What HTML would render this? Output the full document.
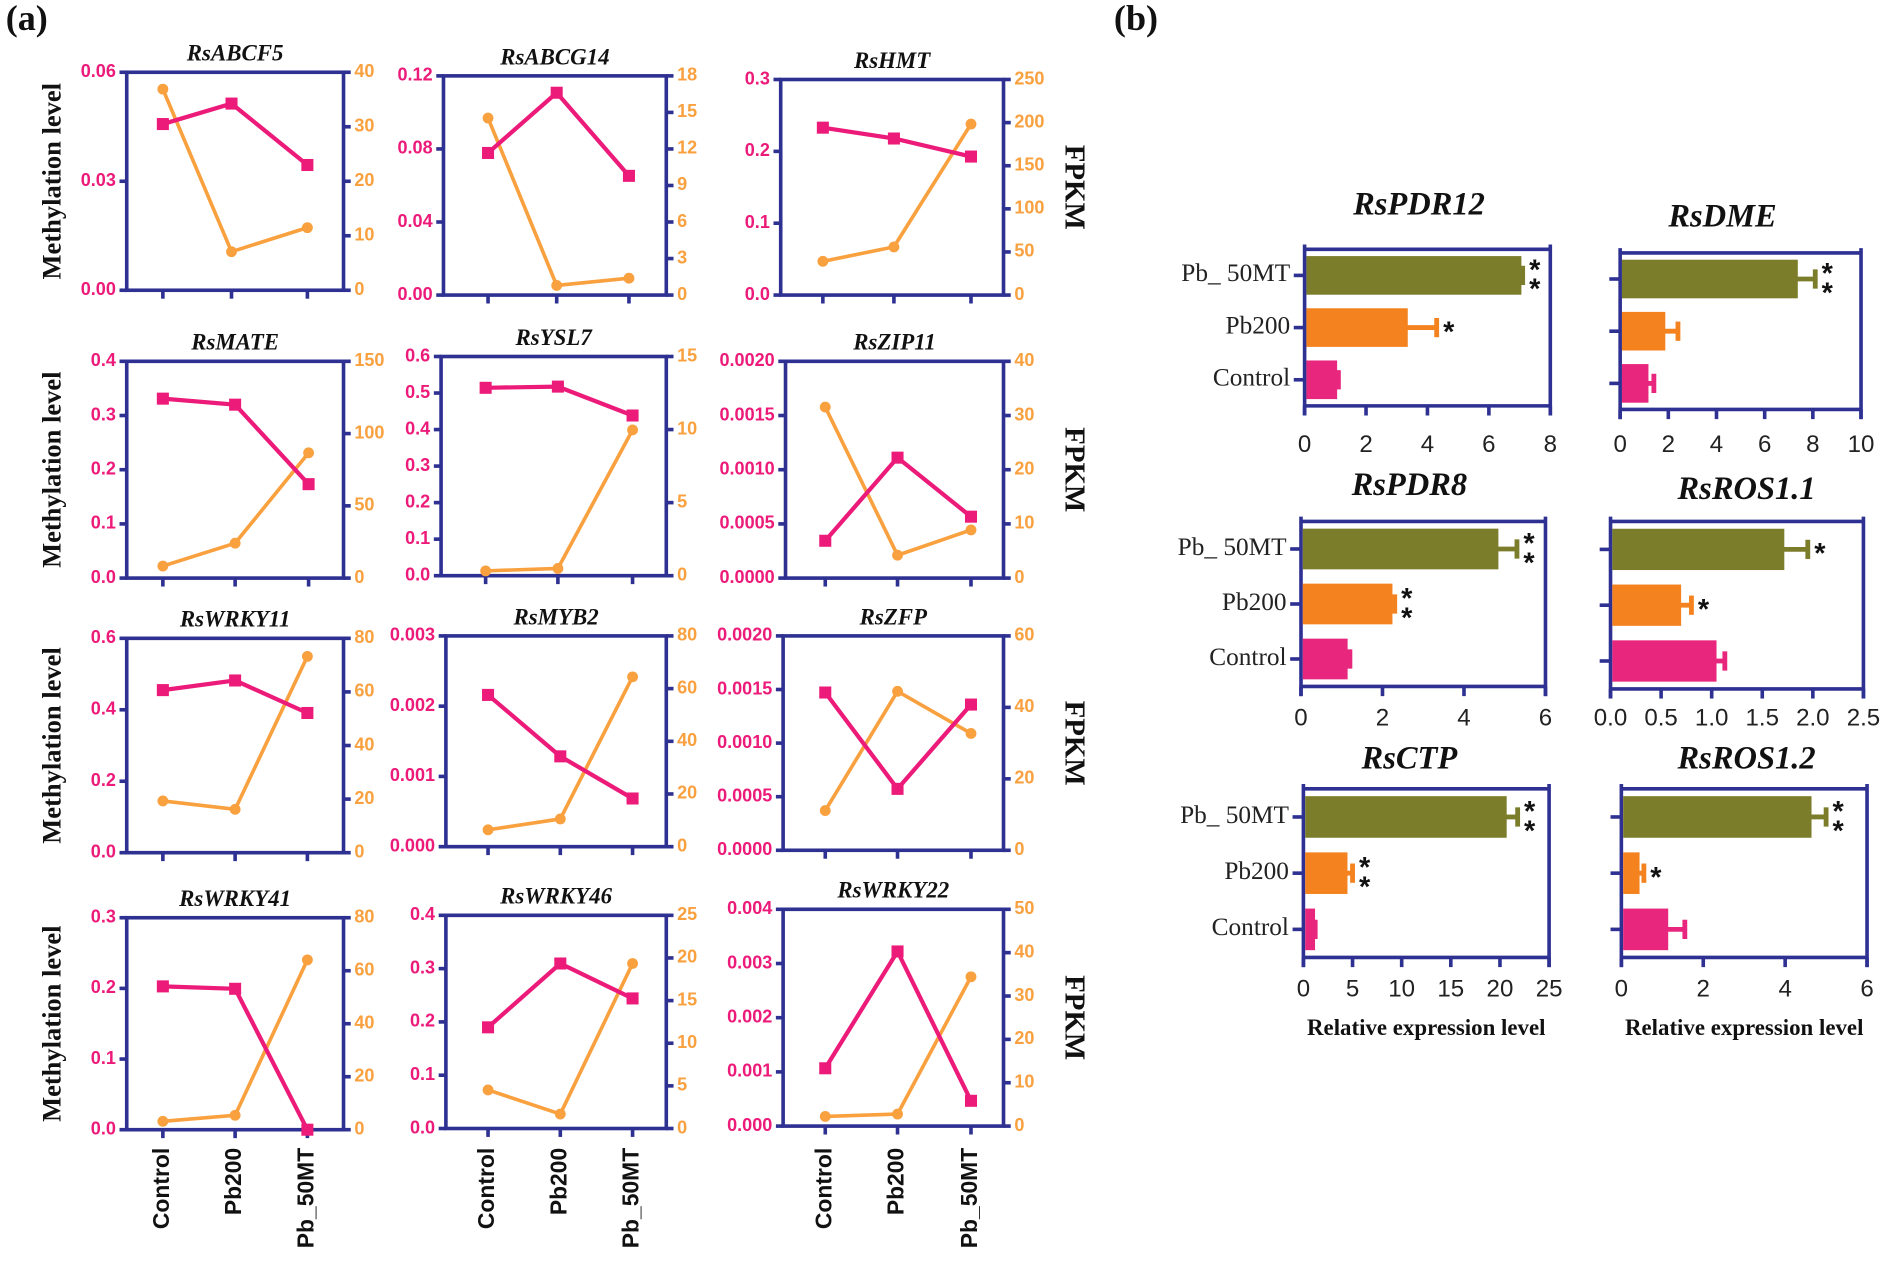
<!DOCTYPE html>
<html><head><meta charset="utf-8"><style>
html,body{margin:0;padding:0;background:#fff;}
svg{display:block;}
</style></head><body>
<svg id="s" width="1889" height="1267" viewBox="0 0 1568 1052" xmlns="http://www.w3.org/2000/svg"></svg>
<script>
const S=document.getElementById('s');let h='';
const NAV='#2e3192',PK='#ec1b7a',OR='#f9a03f';
function t(x,y,s,o){o=o||{};h+=`<text x="${x}" y="${y}" font-family="${o.f||'Liberation Sans'}" font-size="${o.fs||14}" font-weight="${o.w||'bold'}" font-style="${o.st||'normal'}" fill="${o.c||'#111'}" text-anchor="${o.a||'middle'}" ${o.tr?`transform="${o.tr}"`:''} dominant-baseline="middle">${s}</text>`;}
function l(x1,y1,x2,y2,c,w){h+=`<line x1="${x1}" y1="${y1}" x2="${x2}" y2="${y2}" stroke="${c}" stroke-width="${w}"/>`;}
t(22,18,'(a)',{f:'Liberation Serif',fs:30,a:'middle'});
t(943,18,'(b)',{f:'Liberation Serif',fs:30,a:'middle'});
const P=[
[105,285,60,241,'RsABCF5',[135,192,255],[103,86,137],[74,209,189],['0.06','0.03','0.00'],['40','30','20','10','0']],
[368,553,63,245,'RsABCG14',[405,462,522],[127,77,146],[98,237,231],['0.12','0.08','0.04','0.00'],['18','15','12','9','6','3','0']],
[648,833,66,245,'RsHMT',[683,742,806],[106,115,130],[217,205,103],['0.3','0.2','0.1','0.0'],['250','200','150','100','50','0']],
[105,285,300,480,'RsMATE',[135,195,256],[331,336,402],[470,451,376],['0.4','0.3','0.2','0.1','0.0'],['150','100','50','0']],
[366,553,296,478,'RsYSL7',[403,463,525],[322,321,345],[474,472,357],['0.6','0.5','0.4','0.3','0.2','0.1','0.0'],['15','10','5','0']],
[652,833,300,480,'RsZIP11',[685,745,806],[449,380,429],[338,461,440],['0.0020','0.0015','0.0010','0.0005','0.0000'],['40','30','20','10','0']],
[105,285,530,708,'RsWRKY11',[135,195,255],[573,565,592],[665,672,545],['0.6','0.4','0.2','0.0'],['80','60','40','20','0']],
[370,553,528,703,'RsMYB2',[405,465,525],[577,628,663],[689,680,562],['0.003','0.002','0.001','0.000'],['80','60','40','20','0']],
[650,833,528,706,'RsZFP',[685,745,806],[575,655,585],[673,574,609],['0.0020','0.0015','0.0010','0.0005','0.0000'],['60','40','20','0']],
[105,285,762,938,'RsWRKY41',[135,195,255],[819,821,938],[931,926,797],['0.3','0.2','0.1','0.0'],['80','60','40','20','0']],
[370,553,760,937,'RsWRKY46',[405,465,525],[853,800,829],[905,925,800],['0.4','0.3','0.2','0.1','0.0'],['25','20','15','10','5','0']],
[650,833,755,935,'RsWRKY22',[685,745,806],[887,790,914],[927,925,811],['0.004','0.003','0.002','0.001','0.000'],['50','40','30','20','10','0']]];
P.forEach((p,i)=>{const[x0,x1,y0,y1,ti,xs,pk,or,L,R]=p;
 h+=`<rect x="${x0}" y="${y0}" width="${x1-x0}" height="${y1-y0}" fill="none" stroke="${NAV}" stroke-width="3"/>`;
 t((x0+x1)/2,y0-14,ti,{f:'Liberation Serif',fs:19,st:'italic'});
 L.forEach((v,k)=>{const y=y0+(y1-y0)*k/(L.length-1);l(x0-6,y,x0,y,NAV,3);t(x0-9,y,v,{c:PK,a:'end',fs:15});});
 R.forEach((v,k)=>{const y=y0+(y1-y0)*k/(R.length-1);l(x1,y,x1+6,y,NAV,3);t(x1+9,y,v,{c:OR,a:'start',fs:15});});
 xs.forEach(x=>l(x,y1,x,y1+7,NAV,3));
 h+=`<polyline points="${xs.map((x,k)=>x+','+or[k]).join(' ')}" fill="none" stroke="${OR}" stroke-width="3"/>`;
 xs.forEach((x,k)=>h+=`<circle cx="${x}" cy="${or[k]}" r="4.5" fill="${OR}"/>`);
 h+=`<polyline points="${xs.map((x,k)=>x+','+pk[k]).join(' ')}" fill="none" stroke="${PK}" stroke-width="3.5"/>`;
 xs.forEach((x,k)=>h+=`<rect x="${x-5}" y="${pk[k]-5}" width="10" height="10" fill="${PK}"/>`);
 if(i%3==0)t(45,(y0+y1)/2,'Methylation level',{f:'Liberation Serif',fs:22,tr:`rotate(-90 45 ${(y0+y1)/2})`});
 if(i%3==2)t(890,(y0+y1)/2,'FPKM',{f:'Liberation Serif',fs:24,tr:`rotate(90 890 ${(y0+y1)/2})`});
 if(i>=9)['Control','Pb200','Pb_50MT'].forEach((s,k)=>t(xs[k],953,s,{fs:19,a:'end',tr:`rotate(-90 ${xs[k]} 953)`}));
});
const OL='#7b7d2b',BO='#f4821f',BP='#e8267d';
const B=[
[1083,1287,207,337,'RsPDR12',1178,172,8,['0','2','4','6','8'],[[7.0,7.1,'**'],[3.3,4.3,'*'],[1.0,1.1,'']],true,370],
[1345,1545,210,340,'RsDME',1430,182,10,['0','2','4','6','8','10'],[[7.3,8.1,'**'],[1.8,2.4,''],[1.1,1.4,'']],false,370],
[1080,1283,433,570,'RsPDR8',1170,405,6,['0','2','4','6'],[[4.8,5.3,'**'],[2.2,2.3,'**'],[1.1,1.2,'']],true,597],
[1337,1547,433,572,'RsROS1.1',1450,408,2.5,['0.0','0.5','1.0','1.5','2.0','2.5'],[[1.7,1.95,'*'],[0.68,0.8,'*'],[1.03,1.13,'']],false,597],
[1082,1286,655,795,'RsCTP',1170,632,25,['0','5','10','15','20','25'],[[20.5,21.8,'**'],[4.3,5.0,'**'],[1.0,1.2,'']],true,822],
[1346,1550,655,795,'RsROS1.2',1450,632,6,['0','2','4','6'],[[4.6,5.0,'**'],[0.4,0.55,'*'],[1.1,1.55,'']],false,822]];
B.forEach(b=>{const[x0,x1,y0,y1,ti,tx,ty,mx,tk,d,lab,ly]=b;
 t(tx,ty,ti,{f:'Liberation Serif',fs:27,st:'italic'});
 l(x0,y0,x1,y0,NAV,3);l(x0,y1,x1,y1,NAV,3);l(x0,y0-4,x0,y1+8,NAV,3);l(x1,y0-4,x1,y1+8,NAV,3);
 tk.forEach((v,k)=>{const x=x0+(x1-x0)*k/(tk.length-1);l(x,y1,x,y1+8,NAV,3);t(x,ly,v,{fs:20,w:'normal',c:'#222'});});
 const cols=[OL,BO,BP],names=['Pb_ 50MT','Pb200','Control'],bh=(y1-y0)/3;
 d.forEach((v,k)=>{const cy=y0+bh*(k+0.5),w=(x1-x0)*v[0]/mx,e=x0+(x1-x0)*v[1]/mx;
  l(x0+w-2,cy,e,cy,cols[k],4);l(e,cy-8,e,cy+8,cols[k],4);
  h+=`<rect x="${x0+1.5}" y="${cy-bh*0.37}" width="${w}" height="${bh*0.74}" fill="${cols[k]}"/>`;
  l(x0-9,cy,x0,cy,NAV,3);
  if(lab)t(x0-12,cy,names[k],{f:'Liberation Serif',fs:21,w:'normal',a:'end',c:'#222'});
  if(v[2]=='**'){t(e+10,cy-3,'*',{fs:24,w:'bold'});t(e+10,cy+13,'*',{fs:24,w:'bold'});}
  else if(v[2]=='*')t(e+10,cy+5,'*',{fs:24,w:'bold'});
 });
 if(ly==822)t((x0+x1)/2,855,'Relative expression level',{f:'Liberation Serif',fs:19});
});
S.innerHTML=h;
</script>
</body></html>
